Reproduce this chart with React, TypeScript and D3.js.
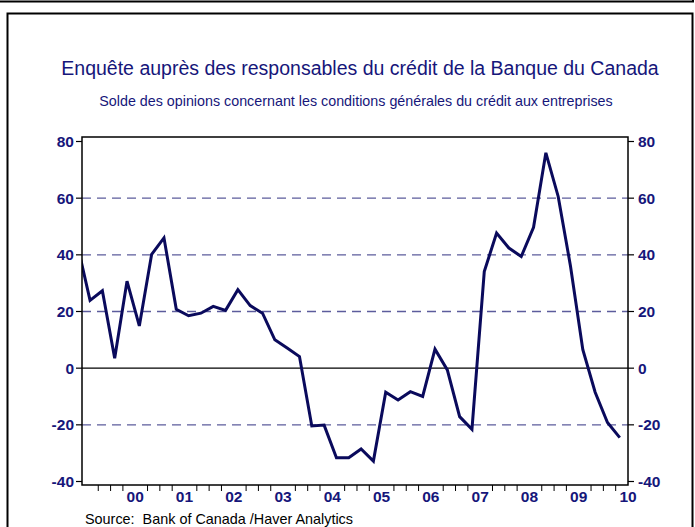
import * as d3 from 'd3'
import React from 'react'

// quarterly survey periods and balance of opinion (%)
const periods = [
  '1998Q4',
  '1999Q1', '1999Q2', '1999Q3', '1999Q4',
  '2000Q1', '2000Q2', '2000Q3', '2000Q4',
  '2001Q1', '2001Q2', '2001Q3', '2001Q4',
  '2002Q1', '2002Q2', '2002Q3', '2002Q4',
  '2003Q1', '2003Q2', '2003Q3', '2003Q4',
  '2004Q1', '2004Q2', '2004Q3', '2004Q4',
  '2005Q1', '2005Q2', '2005Q3', '2005Q4',
  '2006Q1', '2006Q2', '2006Q3', '2006Q4',
  '2007Q1', '2007Q2', '2007Q3', '2007Q4',
  '2008Q1', '2008Q2', '2008Q3', '2008Q4',
  '2009Q1', '2009Q2', '2009Q3', '2009Q4',
]
const balance = [
  43,
  23.9, 27.3, 3.5, 30.7,
  14.9, 40.2, 46.0, 20.8,
  18.5, 19.4, 21.8, 20.4,
  27.7, 22.1, 19.4, 10.0,
  7.1, 4.1, -20.4, -20.1,
  -31.6, -31.6, -28.5, -32.8,
  -8.5, -11.2, -8.3, -10.0,
  6.7, -0.6, -17.1, -21.6,
  34.1, 47.7, 42.4, 39.4,
  49.7, 76.0, 60.6, 36.0,
  6.5, -8.5, -19.2, -24.5,
]
const yTicks = [-40, -20, 0, 20, 40, 60, 80]
const yearLabels = ['00', '01', '02', '03', '04', '05', '06', '07', '08', '09', '10']
const years = d3.range(2000, 2011)

const title = 'Enquête auprès des responsables du crédit de la Banque du Canada'
const subtitle = 'Solde des opinions concernant les conditions générales du crédit aux entreprises'
const source = 'Source:  Bank of Canada /Haver Analytics'

const navy = '#0a0a5c'
const textNavy = '#16167a'
const gridCol = '#5c5c9c'

function toYear(p: string) {
  const yr = +p.slice(0, 4)
  const q = +p.slice(5)
  return yr + (q - 1) / 4 + 1 / 12
}

export default function App() {
  const W = 695, H = 527
  const left = 82, right = 628, top = 137, bottom = 485

  const x = d3.scaleLinear().domain([1998.92, 2010.0]).range([left, right])
  const y = d3.scaleLinear().domain([-40, 80]).range([481.5, 141.5])

  const pts = periods.map((p, i) => [toYear(p), balance[i]] as [number, number])
  const line = d3.line<[number, number]>().x(d => x(d[0])).y(d => y(d[1]))

  const quarterTicks = d3.range(1999, 2010, 0.25).filter(t => Math.abs(t - Math.round(t)) > 0.01)

  const font = 'Arial, "Liberation Sans", Helvetica, sans-serif'

  return (
    <svg width={W} height={H} style={{ position: 'absolute', left: 0, top: 0, background: '#fff' }}
      fontFamily={font}>
      <defs>
        <clipPath id="plotClip">
          <rect x={left} y={top} width={right - left} height={bottom - top} />
        </clipPath>
      </defs>
      {/* outer boxes */}
      <rect x={-5} y={-20} width={698} height={21.5} fill="none" stroke="#000" strokeWidth={2} />
      <rect x={7.5} y={13.5} width={685} height={530} fill="none" stroke="#000" strokeWidth={2} />

      <text x={360} y={75} textAnchor="middle" fontSize={19.5} fill={textNavy}>{title}</text>
      <text x={356} y={106} textAnchor="middle" fontSize={14.3} fill={textNavy}>{subtitle}</text>

      {/* grid */}
      {yTicks.filter(v => v !== 0 && v !== 80 && v !== -40).map(v => (
        <line key={'g' + v} x1={left} x2={right} y1={y(v)} y2={y(v)}
          stroke={gridCol} strokeWidth={1.3} strokeDasharray="9,6" />
      ))}
      <line x1={left} x2={right} y1={y(0)} y2={y(0)} stroke="#000" strokeWidth={1.2} />

      <path d={line(pts) || ''} fill="none" stroke={navy} strokeWidth={3}
        strokeLinejoin="miter" clipPath="url(#plotClip)" />

      {/* frame */}
      <rect x={left} y={top} width={right - left} height={bottom - top} fill="none" stroke="#000" strokeWidth={1.5} />

      {/* y axes */}
      {yTicks.map(v => (
        <g key={'y' + v}>
          <line x1={left - 6} x2={left} y1={y(v)} y2={y(v)} stroke="#000" strokeWidth={1.2} />
          <line x1={right} x2={right + 6} y1={y(v)} y2={y(v)} stroke="#000" strokeWidth={1.2} />
          <text x={left - 8} y={y(v) + 5.5} textAnchor="end" fontSize={15.5} fontWeight="bold" fill={textNavy}>{v}</text>
          <text x={right + 10} y={y(v) + 5.5} textAnchor="start" fontSize={15.5} fontWeight="bold" fill={textNavy}>{v}</text>
        </g>
      ))}

      {/* x axis */}
      {quarterTicks.map(t => (
        <line key={'q' + t} x1={x(t)} x2={x(t)} y1={bottom} y2={bottom + 6} stroke="#000" strokeWidth={1} />
      ))}
      {years.map((yr, i) => (
        <text key={'yr' + yr} x={x(yr)} y={502} textAnchor="middle" fontSize={15.5} fontWeight="bold" fill={textNavy}>
          {yearLabels[i]}
        </text>
      ))}

      <text x={85} y={524} fontSize={14.4} fill="#000" style={{ whiteSpace: 'pre' }}>{source}</text>
    </svg>
  )
}
